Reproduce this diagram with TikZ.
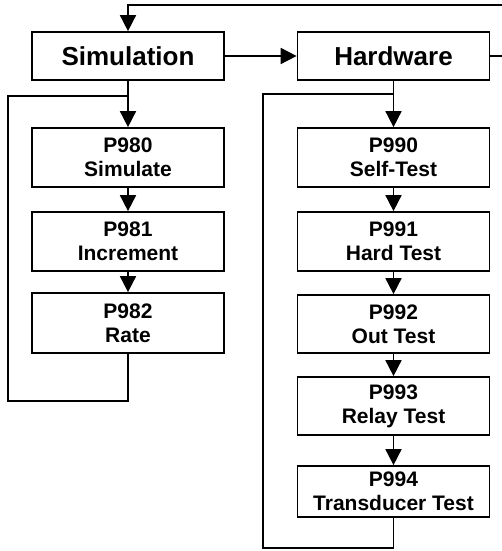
\documentclass[tikz,border=0pt]{standalone}
\usepackage{fontspec}
\setmainfont{Liberation Sans}
\usepackage{tikz}
\usetikzlibrary{arrows.meta}

\begin{document}
\begin{tikzpicture}[x=1pt, y=-1pt,
  group/.style={draw, line width=1.7pt, minimum width=192pt, minimum height=48pt, inner sep=0pt,
    font=\fontsize{26}{30}\selectfont\bfseries},
  param/.style={draw, line width=1.7pt, minimum width=192pt, inner sep=0pt, align=center,
    font=\fontsize{21}{24}\selectfont\bfseries},
  link/.style={line width=1.7pt, -{Triangle[length=16pt,width=16pt]}},
  wire/.style={line width=1.7pt}]

\useasboundingbox (0,0) rectangle (501,551);

% group boxes
\node[group](sim) at (128,56) {Simulation};
\node[group](hw) at (393.5,56) {Hardware};

% simulation parameters
\node[param, minimum height=59pt](p980) at (128,157.5) {P980\\Simulate};
\node[param, minimum height=59pt](p981) at (128,241.5) {P981\\Increment};
\node[param, minimum height=60pt](p982) at (128,323) {P982\\Rate};

% hardware parameters
\node[param, minimum height=59pt](p990) at (393.5,157.5) {P990\\Self-Test};
\node[param, minimum height=59pt](p991) at (393.5,241.5) {P991\\Hard Test};
\node[param, minimum height=58pt](p992) at (393.5,324) {P992\\Out Test};
\node[param, minimum height=58pt](p993) at (393.5,406) {P993\\Relay Test};
\node[param, minimum height=51pt](p994) at (393.5,491.5) {P994\\Transducer Test};

\coordinate(back) at (503,5);
\coordinate(simloop) at (8,401);
\coordinate(simjoin) at (128,96);
\coordinate(hwloop) at (263,548);
\coordinate(hwjoin) at (393.5,94);

% top level
\draw[link] (sim) -- (hw);
\draw[link] (hw.east) -| (back) -| (sim.north);

% simulation chain
\draw[link] (sim) -- (p980);
\draw[link] (p980) -- (p981);
\draw[link] (p981) -- (p982);
\draw[wire] (p982.south) |- (simloop) |- (simjoin);

% hardware chain
\draw[link] (hw) -- (p990);
\draw[link] (p990) -- (p991);
\draw[link] (p991) -- (p992);
\draw[link] (p992) -- (p993);
\draw[link] (p993) -- (p994);
\draw[wire] (p994.south) |- (hwloop) |- (hwjoin);

\end{tikzpicture}
\end{document}
